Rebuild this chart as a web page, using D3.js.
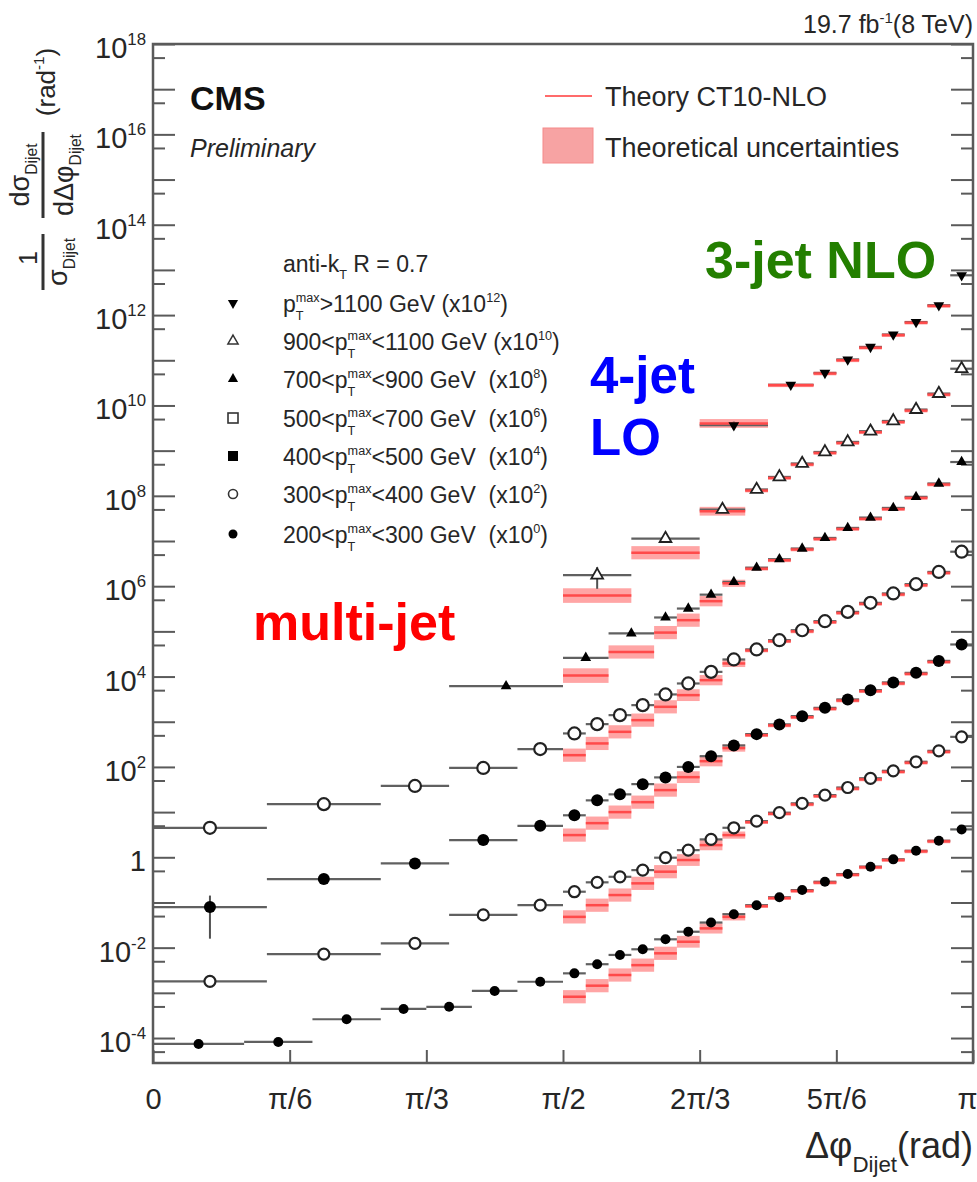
<!DOCTYPE html>
<html><head><meta charset="utf-8">
<script src="https://cdn.jsdelivr.net/npm/d3@7"></script>
<style>
body{margin:0;background:#fff}
svg{display:block}
text{font-family:"Liberation Sans",Arial,Helvetica,sans-serif;white-space:pre}
</style>
</head><body>
<svg id="c" width="977" height="1182"></svg>
<script>
// ---------------- DATA (values as plotted, already multiplied by the scale factor) -------------
// bin edges in degrees of delta-phi
const s1Edges = [0,20,35,50,60,70,80,90,95,100,105,110,115,120,125,130,135,140,145,150,155,160,165,170,175,180];
const s1Data  = [7.4e-5,8.2e-5,2.6e-4,4.4e-4,4.9e-4,1.1e-3,1.76e-3,2.7e-3,4.3e-3,6.9e-3,9.2e-3,1.53e-2,2.25e-2,3.6e-2,5.5e-2,8.7e-2,0.13,0.188,0.287,0.425,0.62,0.90,1.39,2.32,4.14];
const s1Err   = [0.04,0.04,0.04,0.04,0.04,0.04,0.04,0.03,0.03,0.03,0.03,0.03,0.03,0.03,0.03,0.03,0.03,0.03,0.03,0.03,0.03,0.03,0.03,0.03,0.03];
const s1Theory= [null,null,null,null,null,null,null,8.2e-4,1.44e-3,2.48e-3,4.1e-3,7.5e-3,1.35e-2,2.67e-2,4.8e-2,8.3e-2,0.125,0.18,0.275,0.41,0.60,0.87,1.35,2.25,null];
const s1ThUnc = [0,0,0,0,0,0,0,0.4,0.4,0.4,0.4,0.4,0.35,0.3,0.2,0.1,0.1,0.1,0.1,0.1,0.1,0.1,0.1,0.1,0];

const s2Edges = [0,25,50,65,80,90,95,100,105,110,115,120,125,130,135,140,145,150,155,160,165,170,175,180];
const s2Data  = [1.8e-3,7.2e-3,1.24e-2,5.3e-2,8.7e-2,0.173,0.279,0.37,0.52,0.98,1.44,2.49,4.5,6.3,9.7,15.6,23.8,35,56,82,130,227,463];
const s2Err   = [0.25,0.05,0.05,0.04,0.04,0.03,0.03,0.03,0.03,0.03,0.03,0.03,0.03,0.03,0.03,0.03,0.03,0.03,0.03,0.03,0.03,0.03,0.03];
const s2Theory= [null,null,null,null,null,4.8e-2,8.7e-2,0.146,0.265,0.48,0.87,1.86,3.1,6.0,9.2,14.8,22.6,33,53,78,124,216,null];
const s2ThUnc = [0,0,0,0,0,0.4,0.4,0.4,0.4,0.4,0.35,0.3,0.2,0.1,0.1,0.1,0.1,0.1,0.1,0.1,0.1,0.1,0];

const s3Edges = [0,25,50,65,80,90,95,100,105,110,115,120,125,130,135,140,145,150,155,160,165,170,175,180];
const s3Data  = [7.9e-2,0.33,0.73,2.4,4.98,8.5,18.2,24.7,41.6,58.6,100,173,299,532,871,1330,2030,3110,5000,7400,12080,22230,51300];
const s3Err   = [0.8,0.05,0.05,0.04,0.04,0.03,0.03,0.03,0.03,0.03,0.03,0.03,0.03,0.03,0.03,0.03,0.03,0.03,0.03,0.03,0.03,0.03,0.03];
const s3Theory= [null,null,null,null,null,3.1,5.7,10,16.6,30.7,59.4,134,261,505,830,1260,1930,2950,4750,7030,11500,21100,null];
const s3ThUnc = [0,0,0,0,0,0.4,0.4,0.4,0.4,0.4,0.35,0.3,0.2,0.1,0.1,0.1,0.1,0.1,0.1,0.1,0.1,0.1,0];

const s4Edges = [0,25,50,65,80,90,95,100,105,110,115,120,125,130,135,140,145,150,155,160,165,170,175,180];
const s4Data  = [4.5,15,38,95,248,551,885,1400,2330,4020,7030,12700,23900,39800,63800,1.06e5,1.68e5,2.7e5,4.28e5,6.9e5,1.11e6,2.07e6,5.8e6];
const s4Err   = [0.05,0.04,0.04,0.04,0.04,0.03,0.03,0.03,0.03,0.03,0.03,0.03,0.03,0.03,0.03,0.03,0.03,0.03,0.03,0.03,0.03,0.03,0.03];
const s4Theory= [null,null,null,null,null,182,331,598,1085,2140,3880,8320,19500,37800,60600,1.0e5,1.6e5,2.56e5,4.07e5,6.55e5,1.05e6,1.97e6,null];
const s4ThUnc = [0,0,0,0,0,0.4,0.4,0.4,0.4,0.4,0.35,0.3,0.2,0.1,0.1,0.1,0.1,0.1,0.1,0.1,0.1,0.1,0];

const s5Edges = [65,90,100,110,115,120,125,130,135,140,145,150,155,160,165,170,175,180];
const s5Data  = [6130,2.6e4,9.0e4,2.03e5,3.2e5,6.5e5,1.24e6,2.57e6,3.95e6,6.8e6,1.17e7,1.95e7,3.3e7,5.4e7,9.5e7,1.87e8,5.6e8];
const s5Err   = [0.06,0.05,0.05,0.05,0.05,0.04,0.04,0.04,0.04,0.04,0.04,0.04,0.04,0.04,0.04,0.04,0.04];
const s5Theory= [null,1.05e4,3.5e4,9.4e4,1.77e5,4.66e5,1.16e6,2.44e6,3.75e6,6.5e6,1.11e7,1.85e7,3.1e7,5.1e7,9.0e7,1.78e8,null];
const s5ThUnc = [0,0.45,0.4,0.4,0.4,0.3,0.2,0.1,0.1,0.1,0.1,0.1,0.1,0.1,0.1,0.1,0];

const s6Edges = [90,105,120,130,135,140,145,150,155,160,165,170,175,180];
const s6Data  = [1.75e6,1.13e7,4.98e7,1.38e8,2.62e8,5.19e8,9.35e8,1.56e9,2.69e9,4.54e9,8.1e9,1.83e10,6.5e10];
const s6Err   = [0.5,0.08,0.06,0.05,0.05,0.05,0.05,0.05,0.05,0.05,0.05,0.05,0.05];
const s6Theory= [6.2e5,5.5e6,4.56e7,1.31e8,2.49e8,4.93e8,8.9e8,1.48e9,2.56e9,4.3e9,7.7e9,1.74e10,null];
const s6ThUnc = [0.45,0.4,0.25,0.1,0.1,0.1,0.1,0.1,0.1,0.1,0.1,0.1,0];

const s7Edges = [120,135,145,150,155,160,165,170,175,180];
const s7Data  = [3.65e9,2.87e10,5.24e10,1.04e11,1.97e11,3.7e11,7.0e11,1.65e12,7.6e12];
const s7Err   = [0.2,0.06,0.05,0.05,0.05,0.05,0.05,0.05,0.05];
const s7Theory= [4.0e9,2.8e10,5.1e10,1.0e11,1.9e11,3.6e11,6.8e11,1.6e12,null];
const s7ThUnc = [0.25,0.1,0.1,0.1,0.1,0.1,0.1,0.1,0];

// legend / labels
const ptLow   = [200,300,400,500,700,900,1100];
const ptHigh  = [300,400,500,700,900,1100,null];
const scaleExp= [0,2,4,6,8,10,12];
const xTickLabels = ['0','π/6','π/3','π/2','2π/3','5π/6','π'];
const yLabelExp = [-4,-2,0,2,4,6,8,10,12,14,16,18];
const yDomain = [2.8e-5, 1e18];

// ---------------- DRAWING ----------------
const svg = d3.select('#c');
const X0=153, X1=973, Y0=44, Y1=1063;
const DEG = Math.PI/180;
const x = d3.scaleLinear().domain([0, Math.PI]).range([X0, X1]);
const y = d3.scaleLog().domain(yDomain).range([Y1, Y0]);
const TXT = '#262626', AX = '#5a5a5a';

function rich(parent, px, py, pieces, size, anchor, opt) {
  opt = opt || {};
  const sc = opt.scale || 0.6, supDy = opt.supDy != null ? opt.supDy : -0.42*size, subDy = opt.subDy != null ? opt.subDy : 0.3*size;
  const g = parent.append('g');
  let cx = 0;
  pieces.forEach(p => {
    if (p.t != null) {
      const t = g.append('text').attr('x', cx).attr('y', 0).attr('font-size', size).attr('fill', opt.fill || TXT).text(p.t);
      cx += t.node().getComputedTextLength();
    } else {
      let w = 0;
      if (p.sup != null) {
        const t = g.append('text').attr('x', cx).attr('y', supDy).attr('font-size', size*sc).attr('fill', opt.fill || TXT).text(p.sup);
        w = Math.max(w, t.node().getComputedTextLength());
      }
      if (p.sub != null) {
        const t = g.append('text').attr('x', cx).attr('y', subDy).attr('font-size', size*sc).attr('fill', opt.fill || TXT).text(p.sub);
        w = Math.max(w, t.node().getComputedTextLength());
      }
      cx += w + (opt.gap || 0);
    }
  });
  const shift = anchor === 'middle' ? cx/2 : anchor === 'end' ? cx : 0;
  g.attr('transform', `translate(${px - shift},${py})`);
  return g;
}

// axes ticks (d3 axes)
const majors = d3.range(-4, 19).map(n => +('1e' + n));
const minors = d3.range(-5, 18).map(n => +('5e' + n)).filter(v => v >= yDomain[0] && v <= yDomain[1]);
function styleAxis(g) {
  g.select('.domain').remove();
  g.selectAll('.tick line').attr('stroke', AX).attr('stroke-width', 2);
}
svg.append('g').attr('transform', `translate(${X0},0)`).call(d3.axisLeft(y).tickValues(majors).tickSize(-22).tickFormat('')).call(styleAxis);
svg.append('g').attr('transform', `translate(${X0},0)`).call(d3.axisLeft(y).tickValues(minors).tickSize(-12).tickFormat('')).call(styleAxis);
svg.append('g').attr('transform', `translate(${X1},0)`).call(d3.axisRight(y).tickValues(majors).tickSize(-22).tickFormat('')).call(styleAxis);
svg.append('g').attr('transform', `translate(${X1},0)`).call(d3.axisRight(y).tickValues(minors).tickSize(-12).tickFormat('')).call(styleAxis);

const xTickVals = xTickLabels.map((d, i) => i*Math.PI/6);
const xa = svg.append('g').attr('transform', `translate(0,${Y1})`)
  .call(d3.axisBottom(x).tickValues(xTickVals).tickSize(-13).tickPadding(25).tickFormat((d, i) => xTickLabels[i]))
  .call(styleAxis);
xa.selectAll('.tick text').attr('font-size', 29).attr('fill', TXT).attr('font-family', '"Liberation Sans",Arial,sans-serif');
xa.selectAll('.tick text').filter((d, i) => i === xTickLabels.length - 1).attr('dx', -6);

// y tick labels
yLabelExp.forEach(n => {
  const v = +('1e' + n);
  const pieces = n === 0 ? [{t:'1'}] : [{t:'10'}, {sup: String(n)}];
  rich(svg, 146, y(v) + 14, pieces, 29, 'end', {scale: 0.58, supDy: -13});
});

// series
const series = [
  {edges:s1Edges, data:s1Data, err:s1Err, th:s1Theory, thu:s1ThUnc, shape:'circle', filled:true,  r:5},
  {edges:s2Edges, data:s2Data, err:s2Err, th:s2Theory, thu:s2ThUnc, shape:'circle', filled:false, r:5.5},
  {edges:s3Edges, data:s3Data, err:s3Err, th:s3Theory, thu:s3ThUnc, shape:'circle', filled:true,  r:6},
  {edges:s4Edges, data:s4Data, err:s4Err, th:s4Theory, thu:s4ThUnc, shape:'circle', filled:false, r:6},
  {edges:s5Edges, data:s5Data, err:s5Err, th:s5Theory, thu:s5ThUnc, shape:'tri',    filled:true,  r:50},
  {edges:s6Edges, data:s6Data, err:s6Err, th:s6Theory, thu:s6ThUnc, shape:'tri',    filled:false, r:60},
  {edges:s7Edges, data:s7Data, err:s7Err, th:s7Theory, thu:s7ThUnc, shape:'tridown',filled:true,  r:50}
];
const bins = series.map(s => s.data.map((v, i) => ({
  x0: s.edges[i]*DEG, x1: s.edges[i+1]*DEG, xc: (s.edges[i]+s.edges[i+1])/2*DEG,
  v, e: s.err[i], th: s.th[i], thu: s.thu[i]
})));

const plot = svg.append('g');
const gBand = plot.append('g'), gBar = plot.append('g'), gLine = plot.append('g'), gMark = plot.append('g');

series.forEach((s, si) => {
  const b = bins[si];
  const bt = b.filter(d => d.th != null);
  gBand.selectAll(null).data(bt).enter().append('rect')
    .attr('x', d => x(d.x0)).attr('width', d => x(d.x1) - x(d.x0))
    .attr('y', d => y(d.th*(1+d.thu))).attr('height', d => y(d.th/(1+d.thu)) - y(d.th*(1+d.thu)))
    .attr('fill', '#ff8f8f').attr('fill-opacity', 0.8);
  gLine.selectAll(null).data(bt).enter().append('line')
    .attr('x1', d => x(d.x0)).attr('x2', d => x(d.x1))
    .attr('y1', d => y(d.th)).attr('y2', d => y(d.th))
    .attr('stroke', '#ff4a4a').attr('stroke-width', 2.5);
  gBar.selectAll(null).data(b).enter().append('line')
    .attr('x1', d => x(d.x0)).attr('x2', d => x(d.x1))
    .attr('y1', d => y(d.v)).attr('y2', d => y(d.v))
    .attr('stroke', '#606060').attr('stroke-width', 2.2);
  gBar.selectAll(null).data(b).enter().append('line')
    .attr('x1', d => x(d.xc)).attr('x2', d => x(d.xc))
    .attr('y1', d => y(d.v*(1+d.e))).attr('y2', d => y(d.v*(1-d.e)))
    .attr('stroke', '#505050').attr('stroke-width', 2);
  const m = gMark.selectAll(null).data(b).enter();
  if (s.shape === 'circle') {
    m.append('circle').attr('cx', d => x(d.xc)).attr('cy', d => y(d.v)).attr('r', s.r)
      .attr('fill', s.filled ? '#000' : '#fff').attr('stroke', s.filled ? 'none' : '#222').attr('stroke-width', 2.2);
  } else {
    const sym = d3.symbol(d3.symbolTriangle).size(s.r);
    m.append('path').attr('d', sym)
      .attr('transform', d => `translate(${x(d.xc)},${y(d.v)})` + (s.shape === 'tridown' ? ' rotate(180)' : ''))
      .attr('fill', s.filled ? '#000' : '#fff').attr('stroke', s.filled ? 'none' : '#222').attr('stroke-width', 1.8);
  }
});

// frame
svg.append('rect').attr('x', X0).attr('y', Y0).attr('width', X1 - X0).attr('height', Y1 - Y0)
  .attr('fill', 'none').attr('stroke', AX).attr('stroke-width', 2.5);

// header texts
svg.append('text').attr('x', 190).attr('y', 110).attr('font-size', 34).attr('font-weight', 'bold').attr('fill', '#111').text('CMS');
svg.append('text').attr('x', 190).attr('y', 157).attr('font-size', 25).attr('font-style', 'italic').attr('fill', TXT).text('Preliminary');
rich(svg, 973, 33, [{t:'19.7 fb'}, {sup:'-1'}, {t:'(8 TeV)'}], 25, 'end', {scale: 0.6, supDy: -10});

// theory legend
svg.append('line').attr('x1', 545).attr('x2', 592).attr('y1', 96).attr('y2', 96).attr('stroke', '#ff6b6b').attr('stroke-width', 2);
svg.append('rect').attr('x', 543).attr('y', 128).attr('width', 50).attr('height', 35).attr('fill', '#f7a3a3').attr('stroke', '#f58a8a').attr('stroke-width', 1);
svg.append('text').attr('x', 605).attr('y', 106).attr('font-size', 27).attr('fill', TXT).text('Theory CT10-NLO');
svg.append('text').attr('x', 605).attr('y', 157).attr('font-size', 27).attr('fill', TXT).text('Theoretical uncertainties');

// markers legend
const legBase = [312, 350, 388, 427, 465, 503, 543];
rich(svg, 283, 272, [{t:'anti-k'}, {sub:'T'}, {t:' R = 0.7'}], 23, 'start', {scale: 0.55, subDy: 7});
const legOrder = [6,5,4,3,2,1,0];
const legShapes = ['tridown','tri','trifill','square','squarefill','circle','circlefill'];
legOrder.forEach((si, k) => {
  const yb = legBase[k];
  const lo = ptLow[si], hi = ptHigh[si];
  const pre = hi == null ? 'p' : lo + '<p';
  const post = hi == null ? '>' + lo + ' GeV (x10' : '<' + hi + ' GeV' + (si === 5 ? ' ' : '  ') + '(x10';
  rich(svg, 283, yb, [{t: pre}, {sup:'max', sub:'T'}, {t: post}, {sup: String(scaleExp[si])}, {t: ')'}], 23, 'start', {scale: 0.55, supDy: -10, subDy: 8});
  const cy = yb - 9, cx = 233, sh = legShapes[k];
  if (sh.startsWith('tri')) {
    const p = svg.append('path').attr('d', d3.symbol(d3.symbolTriangle).size(45))
      .attr('transform', `translate(${cx},${cy})` + (sh === 'tridown' ? ' rotate(180)' : ''));
    if (sh === 'tri') p.attr('fill', '#fff').attr('stroke', '#333').attr('stroke-width', 1.5); else p.attr('fill', '#000');
  } else if (sh.startsWith('square')) {
    const r = svg.append('rect').attr('x', cx - 5).attr('y', cy - 5).attr('width', 10).attr('height', 10);
    if (sh === 'square') r.attr('fill', '#fff').attr('stroke', '#333').attr('stroke-width', 1.6); else r.attr('fill', '#000');
  } else {
    const c = svg.append('circle').attr('cx', cx).attr('cy', cy).attr('r', 4.5);
    if (sh === 'circle') c.attr('fill', '#fff').attr('stroke', '#333').attr('stroke-width', 1.6); else c.attr('fill', '#000');
  }
});

// annotations
svg.append('text').attr('x', 705).attr('y', 278).attr('font-size', 52).attr('font-weight', 'bold').attr('fill', '#237f00').text('3-jet NLO');
svg.append('text').attr('x', 590).attr('y', 393).attr('font-size', 51).attr('font-weight', 'bold').attr('fill', '#0000ff').text('4-jet');
svg.append('text').attr('x', 590).attr('y', 455).attr('font-size', 51).attr('font-weight', 'bold').attr('fill', '#0000ff').text('LO');
svg.append('text').attr('x', 253).attr('y', 640).attr('font-size', 52).attr('font-weight', 'bold').attr('fill', '#ff0000').text('multi-jet');

// x title
rich(svg, 805, 1158, [{t:'Δφ'}, {sub:'Dijet'}, {t:'(rad)'}], 36, 'start', {scale: 0.62, subDy: 14});

// y title (rotated)
const gt = svg.append('g').attr('transform', 'translate(43,0) rotate(-90)');
rich(gt, -258, -6, [{t:'1'}], 25, 'middle');
gt.append('line').attr('x1', -290).attr('x2', -234).attr('y1', 0).attr('y2', 0).attr('stroke', '#333').attr('stroke-width', 3);
rich(gt, -262, 24, [{t:'σ'}, {sub:'Dijet'}], 27, 'middle', {scale: 0.58, subDy: 8});
rich(gt, -175, -14, [{t:'dσ'}, {sub:'Dijet'}], 27, 'middle', {scale: 0.58, subDy: 8});
gt.append('line').attr('x1', -218).attr('x2', -132).attr('y1', 0).attr('y2', 0).attr('stroke', '#333').attr('stroke-width', 3);
rich(gt, -175, 30, [{t:'dΔφ'}, {sub:'Dijet'}], 27, 'middle', {scale: 0.58, subDy: 8});
rich(gt, -82, 12, [{t:'(rad'}, {sup:'-1'}, {t:')'}], 26, 'middle', {scale: 0.58, supDy: -11});
</script>
</body></html>
